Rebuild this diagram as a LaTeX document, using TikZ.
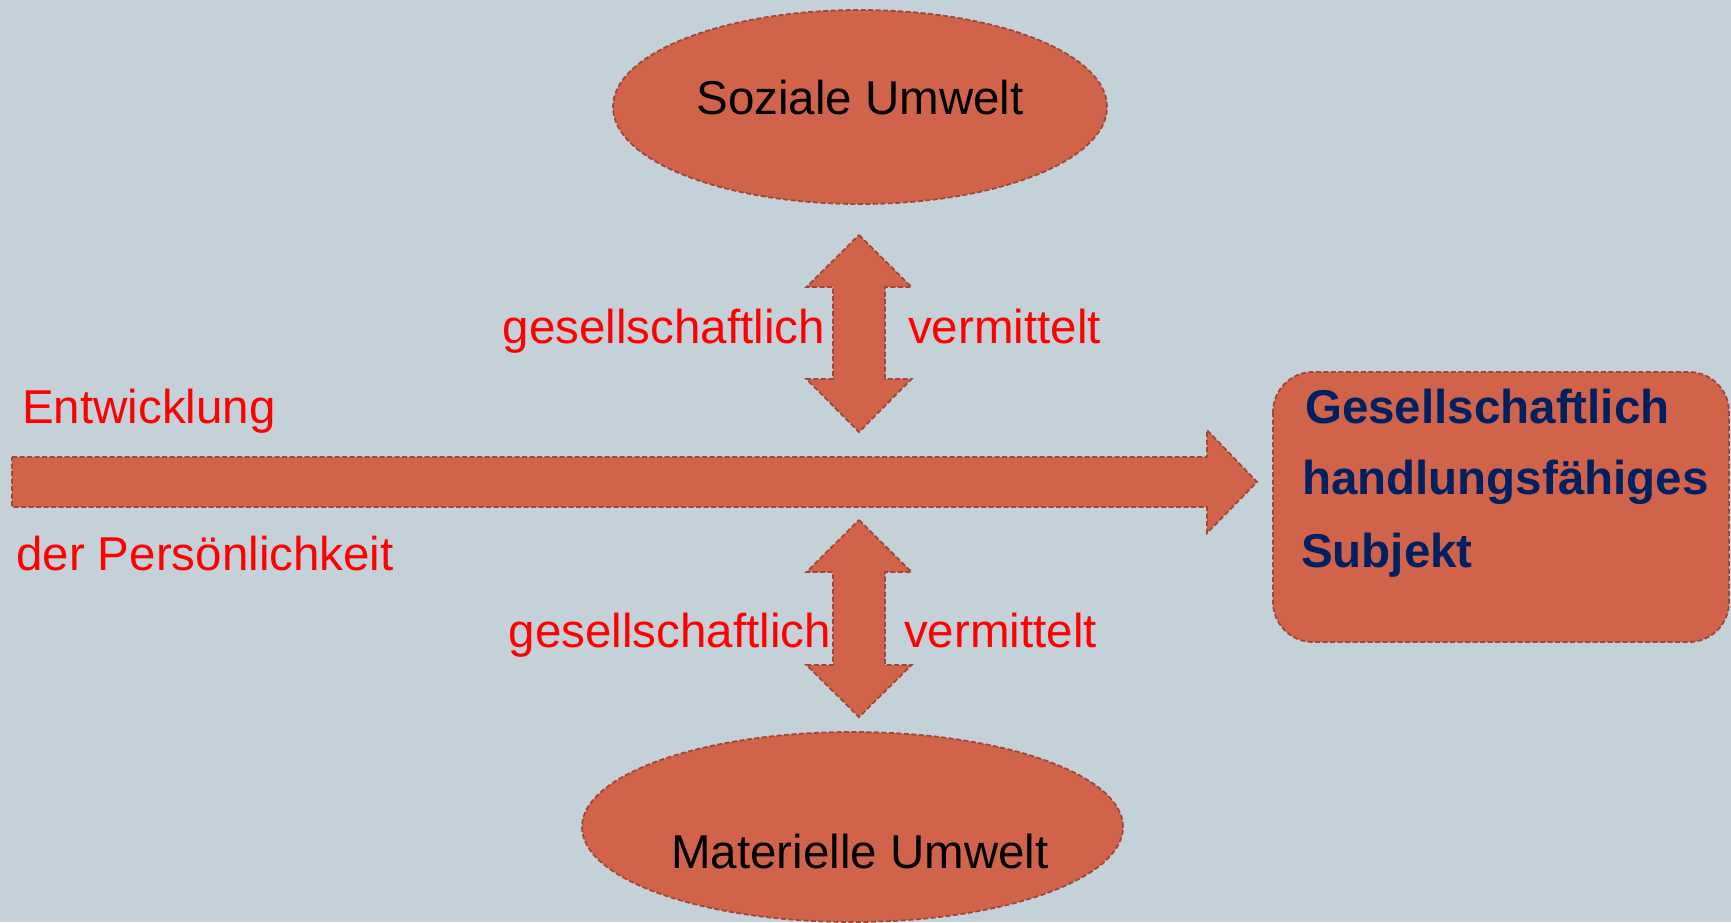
\documentclass[tikz,border=0pt]{standalone}
\usepackage{fontspec}
\setmainfont{Liberation Sans}
\usetikzlibrary{shapes.geometric}
\definecolor{bg}{RGB}{197,209,216}
\definecolor{shapefill}{RGB}{208,99,74}
\definecolor{shapeline}{RGB}{160,72,55}
\definecolor{navy}{RGB}{0,32,96}
\tikzset{
  shp/.style={fill=shapefill, draw=shapeline, line width=1.8pt, dash pattern=on 5pt off 2.5pt, line join=miter},
  bigtxt/.style={inner sep=0pt, font=\fontsize{47.5}{57}\selectfont},
  redtxt/.style={bigtxt, text=red},
  navytxt/.style={bigtxt, text=navy, font=\fontsize{47.5}{57}\selectfont\bfseries},
}
\begin{document}
\begin{tikzpicture}[x=1pt,y=-1pt]
\fill[bg] (0,0) rectangle (1731,922);
\useasboundingbox (0,0) rectangle (1731,922);

% ellipses
\node[shp, ellipse, minimum width=494pt, minimum height=194pt, inner sep=0pt] (soz) at (860,107) {};
\node[bigtxt, anchor=base] (sozt) at (860,114) {Soziale Umwelt};
\node[shp, ellipse, minimum width=541pt, minimum height=190pt, inner sep=0pt] (mat) at (852.5,827) {};
\node[bigtxt, anchor=base] (matt) at (860,868) {Materielle Umwelt};

% big horizontal arrow
\coordinate (h0) at (12,482);
\coordinate (h1) at (1257,482);
\draw[shp] (12,457) -- (1207,457) -- (1207,430) -- (h1) -- (1207,533) -- (1207,507) -- (12,507) -- cycle;

% top double arrow
\coordinate (ta) at (859,235);
\coordinate (tb) at (859,432);
\draw[shp] (ta) -- (911.5,287) -- (885,287) -- (885,379) -- (911.5,379) -- (tb)
  -- (806.5,379) -- (833,379) -- (833,287) -- (806.5,287) -- cycle;

% bottom double arrow
\coordinate (ba) at (859,520);
\coordinate (bb) at (859,717);
\draw[shp] (ba) -- (911.5,572) -- (885,572) -- (885,665) -- (911.5,665) -- (bb)
  -- (806.5,665) -- (833,665) -- (833,572) -- (806.5,572) -- cycle;

% right box
\draw[shp, rounded corners=40pt] (1273,372) rectangle (1729,642);
\node[navytxt, anchor=base west] (g1) at (1305,423) {Gesellschaftlich};
\node[navytxt, anchor=base west] (g2) at (1302,494) {handlungsfähiges};
\node[navytxt, anchor=base west] (g3) at (1301,567) {Subjekt};

% red labels
\node[redtxt, anchor=base west] (e1) at (22,423) {Entwicklung};
\node[redtxt, anchor=base west] (e2) at (16,570) {der Persönlichkeit};
\node[redtxt, anchor=base east] (gt) at (825,343) {gesellschaftlich};
\node[redtxt, anchor=base west] (vt) at (908,343) {vermittelt};
\node[redtxt, anchor=base east] (gb) at (831,647) {gesellschaftlich};
\node[redtxt, anchor=base west] (vb) at (904,647) {vermittelt};
\end{tikzpicture}
\end{document}
